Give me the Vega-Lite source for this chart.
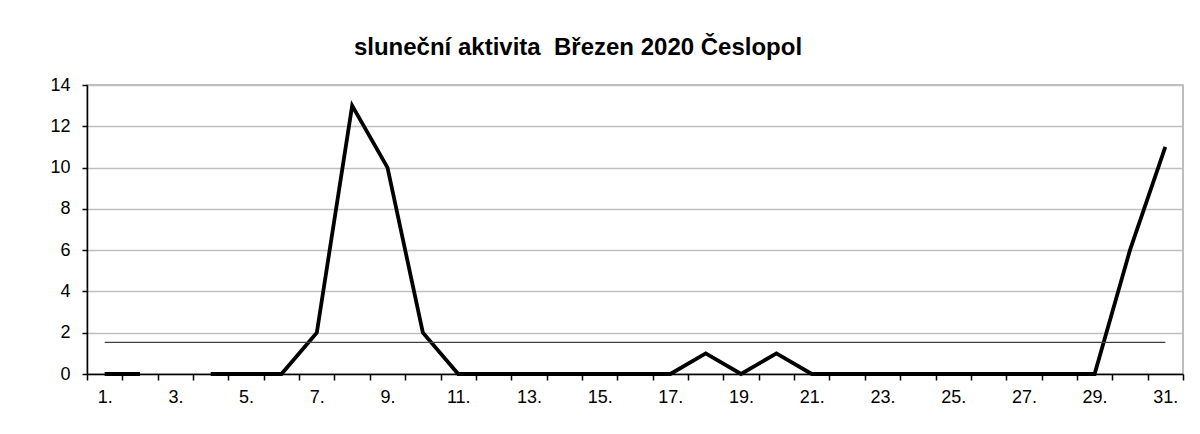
{
  "$schema": "https://vega.github.io/schema/vega-lite/v6.json",
  "autosize": "none",
  "width": 1096,
  "height": 289,
  "padding": {"left": 87, "top": 85, "right": 17, "bottom": 60},
  "background": "white",
  "title": {
    "text": "sluneční aktivita\u00a0 Březen 2020 Česlopol",
    "font": "Liberation Sans",
    "fontSize": 24,
    "fontWeight": "bold",
    "color": "#000000",
    "anchor": "middle",
    "dx": -57,
    "baseline": "alphabetic",
    "offset": -3
  },
  "config": {
    "view": {"stroke": "#a8a8a8", "strokeWidth": 1.5}
  },
  "datasets": {
    "days": [
      {"day": 1, "value": 0},
      {"day": 2, "value": 0},
      {"day": 3, "value": null},
      {"day": 4, "value": 0},
      {"day": 5, "value": 0},
      {"day": 6, "value": 0},
      {"day": 7, "value": 2},
      {"day": 8, "value": 13},
      {"day": 9, "value": 10},
      {"day": 10, "value": 2},
      {"day": 11, "value": 0},
      {"day": 12, "value": 0},
      {"day": 13, "value": 0},
      {"day": 14, "value": 0},
      {"day": 15, "value": 0},
      {"day": 16, "value": 0},
      {"day": 17, "value": 0},
      {"day": 18, "value": 1},
      {"day": 19, "value": 0},
      {"day": 20, "value": 1},
      {"day": 21, "value": 0},
      {"day": 22, "value": 0},
      {"day": 23, "value": 0},
      {"day": 24, "value": 0},
      {"day": 25, "value": 0},
      {"day": 26, "value": 0},
      {"day": 27, "value": 0},
      {"day": 28, "value": 0},
      {"day": 29, "value": 0},
      {"day": 30, "value": 6},
      {"day": 31, "value": 11}
    ],
    "avg": [
      {"start": 1, "end": 31, "mean": 1.53}
    ]
  },
  "layer": [
    {
      "data": {"name": "days"},
      "mark": {"type": "line", "color": "#000000", "strokeWidth": 3.8, "invalid": "break-paths-show-domains", "strokeJoin": "miter"},
      "encoding": {
        "x": {
          "field": "day",
          "type": "ordinal",
          "sort": "ascending",
          "scale": {"paddingInner": 0, "paddingOuter": 0},
          "axis": {
            "title": null,
            "labelAngle": 0,
            "labelFont": "Liberation Sans",
            "labelFontSize": 18,
            "labelColor": "#000000",
            "domainColor": "#000000",
            "domainWidth": 1.5,
            "tickColor": "#000000",
            "tickWidth": 1.5,
            "tickBand": "extent",
            "tickSize": 6,
            "labelPadding": 8,
            "grid": false,
            "labelExpr": "datum.value % 2 == 1 ? datum.value + '.' : ''"
          }
        },
        "y": {
          "field": "value",
          "type": "quantitative",
          "scale": {"domain": [0, 14], "nice": false},
          "axis": {
            "title": null,
            "values": [0, 2, 4, 6, 8, 10, 12, 14],
            "labelFont": "Liberation Sans",
            "labelFontSize": 18,
            "labelColor": "#000000",
            "domainColor": "#000000",
            "domainWidth": 1.5,
            "tickColor": "#000000",
            "tickWidth": 1.5,
            "tickSize": 5,
            "labelPadding": 12,
            "grid": true,
            "gridColor": "#c0c0c0",
            "gridWidth": 1.5
          }
        }
      }
    },
    {
      "data": {"name": "avg"},
      "mark": {"type": "rule", "color": "#404040", "strokeWidth": 1.2},
      "encoding": {
        "x": {"field": "start", "type": "ordinal"},
        "x2": {"field": "end"},
        "y": {"field": "mean", "type": "quantitative"}
      }
    }
  ]
}
